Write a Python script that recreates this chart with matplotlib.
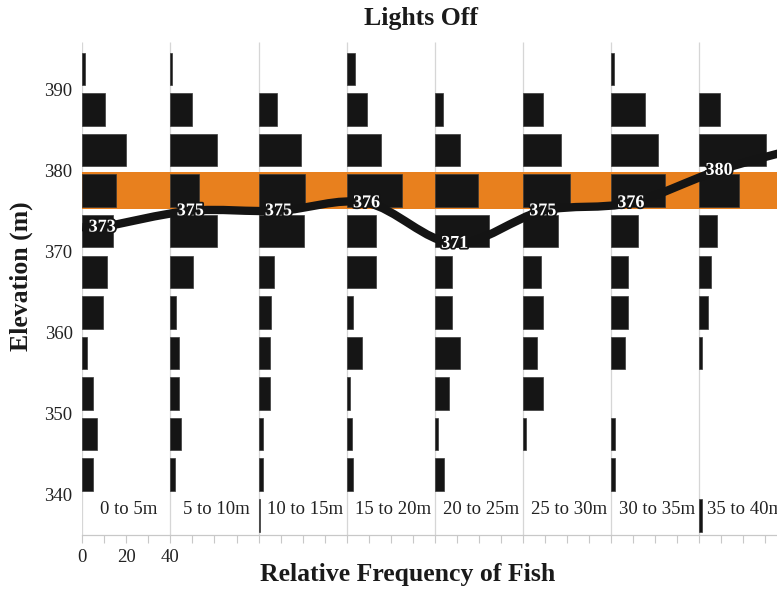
import numpy as np
import matplotlib
matplotlib.use("Agg")
import matplotlib.pyplot as plt
from matplotlib.path import Path
from matplotlib.patches import PathPatch
import matplotlib.patheffects as pe

plt.rcParams['font.family'] = ['Liberation Serif', 'DejaVu Serif']

# Distance classes along the transect (one histogram panel each)
distance_classes = ["0 to 5m", "5 to 10m", "10 to 15m", "15 to 20m",
                    "20 to 25m", "25 to 30m", "30 to 35m", "35 to 40m"]

# Centres of the 5 m elevation bins, top to bottom
elevation_bins = [392.5, 387.5, 382.5, 377.5, 372.5, 367.5,
                  362.5, 357.5, 352.5, 347.5, 342.5, 337.5]

# Relative frequency of fish (%) in each elevation bin, per distance class
freq_0_5 = [1.2, 10.3, 19.7, 15.1, 14.1, 11.3, 9.5, 2.0, 4.7, 6.5, 4.7, 0.0]
freq_5_10 = [0.9, 10.0, 21.3, 12.9, 21.3, 10.4, 2.4, 3.9, 3.9, 4.7, 2.3, 0.0]
freq_10_15 = [0.0, 8.6, 19.4, 21.2, 20.7, 7.1, 5.6, 5.0, 5.0, 2.0, 2.0, 0.8]
freq_15_20 = [3.8, 9.4, 15.4, 25.0, 13.2, 13.2, 3.0, 7.0, 1.4, 2.4, 3.0, 0.0]
freq_20_25 = [0.0, 3.8, 11.5, 19.4, 24.8, 7.8, 7.8, 11.6, 6.6, 1.4, 4.0, 0.0]
freq_25_30 = [0.0, 9.1, 17.1, 21.3, 15.8, 8.0, 9.2, 6.6, 9.2, 1.3, 0.0, 0.0]
freq_30_35 = [1.5, 15.3, 21.2, 24.4, 12.3, 7.6, 7.6, 6.2, 0.0, 1.7, 1.6, 0.0]
freq_35_40 = [0.0, 9.5, 30.3, 17.9, 8.3, 5.4, 4.0, 1.3, 0.0, 0.0, 0.0, 1.3]

frequencies = [freq_0_5, freq_5_10, freq_10_15, freq_15_20,
               freq_20_25, freq_25_30, freq_30_35, freq_35_40]

# Mean fish elevation (m) per distance class; the last entry is the
# 40 to 45 m class whose panel lies past the right edge of the plot
mean_elevation = [373, 375, 375, 376, 371, 375, 376, 380]
mean_elevation_beyond = [383]

# Elevation band highlighted in orange
band_low, band_high = 375.25, 379.75

# ---- layout / style -------------------------------------------------------
W, H = 777, 589
panel_width = 40
bin_height = 4
mean_offset = 9
bar_color = '#151515'
band_color = '#E8801E'
grid_color = '#d6d6d6'

fig = plt.figure(figsize=(W / 100, H / 100), dpi=100)
ax = fig.add_axes([82.3 / W, 1 - 535 / H, 1 - 82.3 / W, (535 - 42) / H])

x_max = (W - 82.3) / 2.203
y_min, y_max = 335.07, 395.8
ax.set_xlim(0, x_max)
ax.set_ylim(y_min, y_max)

# panel separators
n_panels = int(np.ceil(x_max / panel_width))
ax.vlines(np.arange(n_panels) * panel_width, y_min, y_max,
          colors=grid_color, lw=0.9, zorder=0)

# highlighted band
ax.axhspan(band_low, band_high, color=band_color, lw=0, zorder=1)

# horizontal histograms
for i, freq in enumerate(frequencies):
    freq = np.asarray(freq)
    bins = np.asarray(elevation_bins)
    keep = freq > 0
    ax.barh(bins[keep], freq[keep], left=i * panel_width, height=bin_height,
            color=bar_color, edgecolor='#3a3a3a', lw=0.5, zorder=2)
    ax.text(i * panel_width + panel_width / 2 + 1, 338.2, distance_classes[i],
            ha='center', va='center', fontsize=13.5, color='#222222', zorder=3)

# smoothed mean-elevation line
all_means = mean_elevation + mean_elevation_beyond
mx = [0.0] + [i * panel_width + mean_offset for i in range(len(all_means))]
my = [all_means[0]] + all_means
pts = np.column_stack([mx, my]).astype(float)
verts, codes = [pts[0]], [Path.MOVETO]
n = len(pts)
for i in range(n - 1):
    p0 = pts[i - 1] if i > 0 else pts[i]
    p1, p2 = pts[i], pts[i + 1]
    p3 = pts[i + 2] if i + 2 < n else pts[i + 1]
    verts += [p1 + (p2 - p0) / 6, p2 - (p3 - p1) / 6, p2]
    codes += [Path.CURVE4] * 3
ax.add_patch(PathPatch(Path(verts, codes), facecolor='none', edgecolor='#141414',
                       lw=6, capstyle='butt', joinstyle='round', zorder=4))

for i, v in enumerate(mean_elevation):
    ax.text(i * panel_width + mean_offset, v, f"{v}", ha='center', va='center',
            fontsize=13, fontweight='bold', color='white', zorder=5,
            path_effects=[pe.withStroke(linewidth=2.5, foreground='#141414')])

# axes styling
for side in ('top', 'right', 'left'):
    ax.spines[side].set_visible(False)
ax.spines['bottom'].set_color('#c8c8c8')
ax.spines['bottom'].set_linewidth(0.9)

ax.set_yticks([340, 350, 360, 370, 380, 390])
ax.tick_params(axis='y', length=0, pad=7, labelsize=13.5, labelcolor='#222222')

xt = np.arange(0, x_max, 10)
ax.set_xticks(xt)
ax.set_xticklabels([f"{int(t)}" if t in (0, 20, 40) else "" for t in xt])
ax.tick_params(axis='x', direction='out', length=6, width=0.8, color='#c8c8c8',
               pad=4, labelsize=13.5, labelcolor='#222222')

fig.text(421 / W, 1 - 19 / H, "Lights Off", ha='center', va='center',
         fontsize=18.5, fontweight='bold', color='#1a1a1a')
fig.text(408 / W, 1 - 575 / H, "Relative Frequency of Fish", ha='center',
         va='center', fontsize=18.5, fontweight='bold', color='#1a1a1a')
fig.text(21 / W, 1 - 276 / H, "Elevation (m)", ha='center', va='center',
         rotation=90, fontsize=18.5, fontweight='bold', color='#1a1a1a')

fig.savefig("out.png", dpi=100)
